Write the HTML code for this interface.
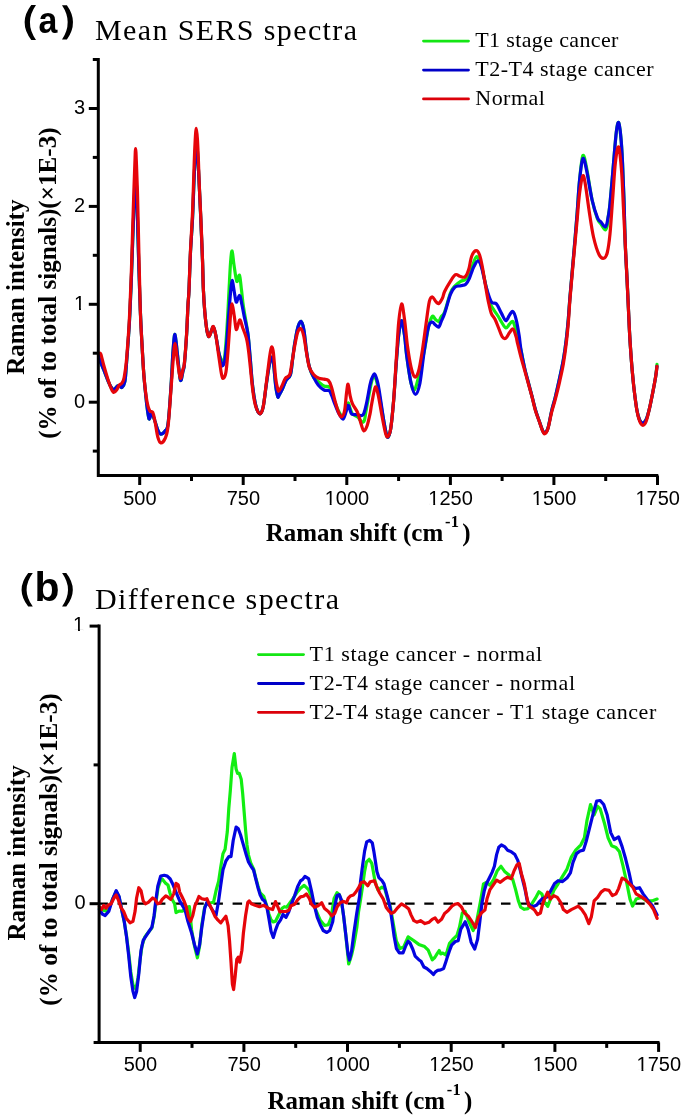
<!DOCTYPE html>
<html><head><meta charset="utf-8"><style>
html,body{margin:0;padding:0;background:#fff;width:685px;height:1120px;overflow:hidden}
svg{display:block;will-change:transform}
text{fill:#000}
</style></head><body>
<svg width="685" height="1120" viewBox="0 0 685 1120"><path d="M98.6,356.0 C98.9,357.0 99.6,359.7 100.5,362.0 C101.4,364.3 102.5,366.8 103.8,370.0 C105.1,373.2 106.9,378.2 108.1,381.0 C109.3,383.8 110.0,385.6 111.0,387.0 C112.0,388.4 112.9,389.8 114.0,389.6 C115.1,389.4 116.6,386.5 117.6,385.9 C118.6,385.3 119.3,385.8 120.0,386.0 C120.7,386.2 121.2,388.1 122.0,387.4 C122.8,386.6 124.2,385.2 124.9,381.5 C125.6,377.8 125.8,372.8 126.4,365.0 C127.0,357.2 128.0,343.3 128.6,335.0 C129.2,326.7 129.3,325.0 129.8,315.0 C130.3,305.0 131.0,288.8 131.5,275.0 C132.0,261.2 132.5,245.3 133.0,232.0 C133.5,218.7 134.1,204.5 134.5,195.0 C134.9,185.5 135.3,175.0 135.7,175.0 C136.1,175.0 136.6,185.5 136.9,195.0 C137.2,204.5 137.5,219.2 137.8,232.0 C138.2,244.8 138.6,259.0 139.0,272.0 C139.4,285.0 139.9,298.8 140.3,310.0 C140.8,321.2 141.1,328.1 141.7,339.0 C142.3,349.9 143.1,364.7 143.9,375.7 C144.8,386.7 146.0,397.8 146.8,405.0 C147.7,412.2 148.3,417.3 149.0,418.8 C149.7,420.3 150.4,414.6 151.0,414.0 C151.6,413.4 152.0,413.8 152.7,415.0 C153.3,416.2 154.1,418.5 154.9,421.0 C155.8,423.5 156.8,427.8 157.8,430.0 C158.8,432.2 159.5,433.9 160.7,434.1 C161.9,434.3 163.9,432.7 165.1,431.0 C166.3,429.3 167.0,431.2 168.0,424.0 C169.0,416.8 170.1,400.3 170.9,388.0 C171.8,375.7 172.4,358.9 173.1,350.0 C173.8,341.1 174.3,333.7 175.0,334.5 C175.7,335.3 176.6,347.4 177.5,355.0 C178.4,362.6 179.5,377.3 180.4,380.0 C181.3,382.7 182.3,373.7 183.0,371.0 C183.7,368.3 183.8,370.1 184.4,364.0 C185.0,357.9 186.0,344.3 186.6,334.5 C187.2,324.7 187.6,312.4 188.0,305.0 C188.4,297.6 188.6,298.8 189.0,290.0 C189.4,281.2 189.9,263.8 190.5,252.0 C191.1,240.2 191.8,232.7 192.5,219.0 C193.2,205.3 193.8,182.8 194.5,170.0 C195.2,157.2 195.7,142.5 196.4,142.5 C197.1,142.5 197.8,157.2 198.5,170.0 C199.2,182.8 200.1,204.0 200.8,219.0 C201.5,234.0 202.1,248.2 202.5,260.0 C202.9,271.8 203.0,281.4 203.4,290.0 C203.8,298.6 204.2,305.1 204.8,311.9 C205.4,318.7 206.3,326.8 207.0,330.9 C207.7,335.0 208.2,336.7 208.9,336.7 C209.6,336.7 210.7,332.5 211.4,330.9 C212.1,329.3 212.6,326.3 213.3,327.0 C214.0,327.7 214.9,331.1 215.8,335.3 C216.7,339.5 217.8,347.9 218.7,352.0 C219.6,356.1 220.7,358.3 221.3,360.0 C221.9,361.7 221.8,362.6 222.3,362.3 C222.8,362.0 223.8,362.6 224.5,358.0 C225.2,353.4 225.9,343.6 226.5,335.0 C227.1,326.4 227.8,314.1 228.2,306.4 C228.6,298.7 228.7,296.0 229.1,288.6 C229.5,281.2 230.1,268.3 230.6,262.0 C231.1,255.7 231.5,250.5 232.1,251.0 C232.7,251.5 233.2,259.9 234.0,265.0 C234.8,270.1 235.9,279.7 236.8,281.4 C237.7,283.1 238.7,273.8 239.5,275.2 C240.3,276.6 240.8,284.8 241.5,290.0 C242.2,295.2 242.3,299.1 243.4,306.4 C244.5,313.7 246.8,325.6 247.9,333.8 C249.0,342.0 249.2,347.2 250.0,355.7 C250.8,364.2 251.5,376.6 252.5,385.0 C253.5,393.4 254.7,401.2 255.9,406.0 C257.1,410.8 258.8,413.7 260.0,413.8 C261.2,413.9 262.2,411.4 263.2,406.8 C264.2,402.2 265.2,392.5 266.1,386.0 C267.0,379.5 268.1,372.3 268.8,368.0 C269.5,363.7 270.0,361.8 270.5,360.0 C271.0,358.2 271.5,356.9 272.0,357.2 C272.5,357.5 272.8,357.4 273.4,362.0 C274.0,366.6 274.9,379.2 275.6,385.0 C276.3,390.8 277.2,394.9 277.8,396.6 C278.4,398.3 278.3,396.4 279.1,395.1 C279.9,393.8 281.2,391.4 282.4,389.0 C283.5,386.6 284.7,382.9 286.0,380.5 C287.3,378.1 289.3,378.1 290.4,374.7 C291.5,371.3 291.8,365.3 292.5,360.0 C293.2,354.7 293.9,348.3 294.8,343.0 C295.7,337.7 296.7,331.6 297.7,328.0 C298.7,324.4 300.0,321.1 301.0,321.4 C302.0,321.7 303.0,325.0 303.9,330.0 C304.8,335.0 305.6,345.1 306.5,351.3 C307.4,357.5 308.2,362.6 309.4,367.0 C310.6,371.4 312.3,375.2 313.8,377.6 C315.3,380.0 316.5,380.1 318.2,381.5 C319.9,382.9 322.2,385.1 324.0,386.0 C325.8,386.9 327.9,386.0 329.1,387.0 C330.4,388.0 330.6,389.8 331.5,392.0 C332.4,394.2 333.0,396.8 334.2,400.0 C335.4,403.2 337.1,408.2 338.6,411.0 C340.1,413.8 341.8,417.2 343.0,417.0 C344.2,416.8 345.1,412.3 346.0,410.0 C346.9,407.7 347.4,403.3 348.1,403.0 C348.8,402.7 349.3,406.2 350.0,408.0 C350.7,409.8 351.2,412.5 352.5,414.0 C353.8,415.5 356.0,415.7 357.6,417.0 C359.2,418.3 360.9,421.5 362.0,422.0 C363.1,422.5 363.8,422.2 364.5,420.0 C365.2,417.8 365.1,415.7 366.4,409.0 C367.6,402.3 370.6,385.2 372.0,380.0 C373.4,374.8 373.8,377.1 374.6,377.6 C375.4,378.1 375.5,376.2 377.0,383.0 C378.5,389.8 382.0,410.7 383.4,418.5 C384.8,426.3 384.8,426.9 385.5,430.0 C386.2,433.1 386.8,437.6 387.7,437.4 C388.6,437.2 389.7,434.8 390.7,428.7 C391.7,422.6 392.6,412.3 393.6,400.9 C394.6,389.4 395.6,371.0 396.5,360.0 C397.4,349.0 397.8,341.6 398.7,335.0 C399.6,328.4 400.6,320.7 401.6,320.7 C402.6,320.7 403.6,329.2 404.5,335.0 C405.4,340.8 405.6,347.6 406.7,355.7 C407.8,363.8 409.6,378.0 411.1,383.4 C412.6,388.8 413.3,393.1 415.5,387.8 C417.7,382.5 422.0,361.5 424.2,351.3 C426.4,341.1 427.2,332.3 428.6,326.5 C430.0,320.7 431.2,317.5 432.3,316.3 C433.4,315.1 434.4,318.6 435.5,319.5 C436.6,320.4 437.9,321.9 438.8,321.5 C439.7,321.1 440.0,318.6 441.0,317.0 C442.0,315.4 443.0,316.0 444.6,312.0 C446.2,308.0 448.7,297.3 450.4,293.0 C452.1,288.7 453.1,287.9 454.8,286.0 C456.5,284.1 459.0,282.3 460.7,281.3 C462.4,280.3 463.6,281.1 465.0,279.9 C466.4,278.7 467.9,277.0 469.4,274.0 C470.9,271.0 472.6,264.9 473.8,262.0 C475.0,259.1 475.7,256.5 476.7,256.5 C477.7,256.5 479.0,259.8 480.0,262.0 C481.0,264.2 481.5,265.8 482.5,270.0 C483.5,274.2 484.9,281.5 486.2,287.0 C487.4,292.5 488.7,299.1 490.0,303.0 C491.3,306.9 492.9,308.3 494.2,310.5 C495.5,312.7 496.8,314.1 498.0,316.0 C499.2,317.9 500.2,320.0 501.5,322.0 C502.8,324.0 504.5,327.7 505.9,328.0 C507.2,328.3 508.4,325.1 509.6,324.0 C510.8,322.9 511.9,320.7 512.9,321.5 C513.9,322.3 514.7,326.4 515.5,329.0 C516.3,331.6 516.7,333.3 517.6,336.8 C518.5,340.3 519.8,344.8 521.0,350.0 C522.2,355.2 523.4,362.7 524.6,368.0 C525.8,373.3 527.0,377.3 528.2,382.0 C529.4,386.7 530.7,391.3 531.9,396.0 C533.1,400.7 534.3,405.8 535.5,410.0 C536.7,414.2 538.0,417.5 539.2,421.0 C540.4,424.5 541.8,429.0 542.8,431.0 C543.8,433.0 544.1,433.5 545.0,433.0 C545.9,432.5 546.9,431.7 548.0,428.0 C549.1,424.3 550.4,416.2 551.6,411.0 C552.8,405.8 554.0,402.5 555.3,397.0 C556.6,391.5 558.3,384.2 559.6,378.0 C560.9,371.8 562.2,366.3 563.3,360.0 C564.4,353.7 565.4,347.0 566.2,340.0 C567.1,333.0 567.8,325.0 568.4,318.0 C569.0,311.0 569.1,308.0 569.9,298.0 C570.7,288.0 572.2,271.8 573.4,258.0 C574.6,244.2 576.0,228.0 577.0,215.0 C578.0,202.0 578.6,189.9 579.6,180.0 C580.6,170.1 581.7,157.3 582.9,155.5 C584.1,153.7 585.3,161.6 586.8,169.0 C588.3,176.4 590.3,191.7 592.1,200.0 C593.9,208.3 596.0,215.0 597.5,219.0 C599.0,223.0 599.7,222.2 601.0,224.0 C602.3,225.8 604.3,230.3 605.5,230.0 C606.7,229.7 607.6,224.0 608.0,222.0 C608.4,220.0 607.7,221.1 608.0,218.0 C608.3,214.9 609.1,212.8 610.0,203.6 C610.9,194.3 612.6,174.4 613.6,162.5 C614.6,150.6 615.5,138.8 616.3,132.1 C617.1,125.4 617.9,121.9 618.6,122.5 C619.3,123.1 620.1,129.0 620.7,135.7 C621.4,142.4 622.0,151.8 622.5,162.5 C623.0,173.2 623.5,186.6 624.0,200.0 C624.5,213.4 624.7,229.8 625.2,242.9 C625.7,256.0 626.4,266.3 627.0,278.6 C627.6,290.9 628.3,306.0 628.8,316.8 C629.3,327.6 629.6,334.7 630.2,343.6 C630.8,352.5 631.5,362.6 632.2,370.4 C632.9,378.2 633.4,383.8 634.2,390.4 C635.0,397.0 636.0,405.1 636.9,410.0 C637.8,414.9 638.6,417.8 639.6,420.0 C640.6,422.2 641.8,423.1 642.9,423.0 C644.0,422.9 645.1,422.0 646.2,419.5 C647.3,417.0 648.5,412.5 649.6,407.9 C650.7,403.3 651.9,396.9 652.9,391.8 C653.9,386.7 654.9,381.6 655.6,377.0 C656.3,372.4 656.8,366.4 657.0,364.3" fill="none" stroke="#12ee12" stroke-width="3.2" stroke-linejoin="round" stroke-linecap="round"/>
<path d="M98.6,356.0 C98.9,357.0 99.6,359.7 100.5,362.0 C101.4,364.3 102.5,366.8 103.8,370.0 C105.1,373.2 106.9,378.2 108.1,381.0 C109.3,383.8 110.0,385.6 111.0,387.0 C112.0,388.4 112.9,389.8 114.0,389.6 C115.1,389.4 116.6,386.5 117.6,385.9 C118.6,385.3 119.3,385.8 120.0,386.0 C120.7,386.2 121.2,388.1 122.0,387.4 C122.8,386.6 124.2,385.2 124.9,381.5 C125.6,377.8 125.8,372.8 126.4,365.0 C127.0,357.2 128.0,343.3 128.6,335.0 C129.2,326.7 129.3,325.0 129.8,315.0 C130.3,305.0 131.0,288.8 131.5,275.0 C132.0,261.2 132.5,245.3 133.0,232.0 C133.5,218.7 134.1,204.5 134.5,195.0 C134.9,185.5 135.3,175.0 135.7,175.0 C136.1,175.0 136.6,185.5 136.9,195.0 C137.2,204.5 137.5,219.2 137.8,232.0 C138.2,244.8 138.6,259.0 139.0,272.0 C139.4,285.0 139.9,298.8 140.3,310.0 C140.8,321.2 141.1,328.1 141.7,339.0 C142.3,349.9 143.1,364.7 143.9,375.7 C144.8,386.7 146.0,397.8 146.8,405.0 C147.7,412.2 148.3,417.3 149.0,418.8 C149.7,420.3 150.4,414.6 151.0,414.0 C151.6,413.4 152.0,413.8 152.7,415.0 C153.3,416.2 154.1,418.5 154.9,421.0 C155.8,423.5 156.8,427.8 157.8,430.0 C158.8,432.2 159.5,433.9 160.7,434.1 C161.9,434.3 163.9,432.7 165.1,431.0 C166.3,429.3 167.0,431.2 168.0,424.0 C169.0,416.8 170.1,400.3 170.9,388.0 C171.8,375.7 172.4,358.9 173.1,350.0 C173.8,341.1 174.3,333.7 175.0,334.5 C175.7,335.3 176.6,347.4 177.5,355.0 C178.4,362.6 179.5,377.3 180.4,380.0 C181.3,382.7 182.3,373.7 183.0,371.0 C183.7,368.3 183.8,370.1 184.4,364.0 C185.0,357.9 186.0,344.3 186.6,334.5 C187.2,324.7 187.6,312.4 188.0,305.0 C188.4,297.6 188.6,298.8 189.0,290.0 C189.4,281.2 189.9,263.8 190.5,252.0 C191.1,240.2 191.8,232.7 192.5,219.0 C193.2,205.3 193.8,182.8 194.5,170.0 C195.2,157.2 195.7,142.5 196.4,142.5 C197.1,142.5 197.8,157.2 198.5,170.0 C199.2,182.8 200.1,204.0 200.8,219.0 C201.5,234.0 202.1,248.2 202.5,260.0 C202.9,271.8 203.0,281.4 203.4,290.0 C203.8,298.6 204.2,305.1 204.8,311.9 C205.4,318.7 206.3,326.8 207.0,330.9 C207.7,335.0 208.2,336.7 208.9,336.7 C209.6,336.7 210.7,332.5 211.4,330.9 C212.1,329.3 212.6,326.3 213.3,327.0 C214.0,327.7 214.9,331.1 215.8,335.3 C216.7,339.5 217.8,347.4 218.7,352.0 C219.6,356.6 220.7,360.7 221.3,363.0 C221.9,365.3 221.8,366.1 222.3,365.9 C222.8,365.7 223.8,365.5 224.5,362.0 C225.2,358.5 225.8,352.3 226.5,345.0 C227.2,337.7 227.8,326.7 228.5,318.0 C229.2,309.3 229.9,299.2 230.5,293.0 C231.1,286.8 231.5,280.7 232.1,280.5 C232.7,280.3 233.6,288.4 234.3,292.0 C235.0,295.6 235.5,301.0 236.2,302.0 C236.8,303.0 237.6,299.0 238.2,298.0 C238.8,297.0 239.3,294.6 239.9,295.8 C240.5,297.0 241.3,301.6 242.0,305.0 C242.7,308.4 243.2,311.5 244.2,316.3 C245.2,321.1 246.9,327.2 247.9,333.8 C248.9,340.4 249.2,347.2 250.0,355.7 C250.8,364.2 251.5,376.6 252.5,385.0 C253.5,393.4 254.7,401.2 255.9,406.0 C257.1,410.8 258.8,413.7 260.0,413.8 C261.2,413.9 262.2,411.4 263.2,406.8 C264.2,402.2 265.2,392.5 266.1,386.0 C267.0,379.5 268.1,372.3 268.8,368.0 C269.5,363.7 270.0,361.8 270.5,360.0 C271.0,358.2 271.5,356.9 272.0,357.2 C272.5,357.5 272.8,357.4 273.4,362.0 C274.0,366.6 274.9,379.2 275.6,385.0 C276.3,390.8 277.2,394.9 277.8,396.6 C278.4,398.3 278.3,396.4 279.1,395.1 C279.9,393.8 281.2,391.4 282.4,389.0 C283.5,386.6 284.7,382.9 286.0,380.5 C287.3,378.1 289.3,378.1 290.4,374.7 C291.5,371.3 291.8,365.3 292.5,360.0 C293.2,354.7 293.9,348.3 294.8,343.0 C295.7,337.7 296.7,331.6 297.7,328.0 C298.7,324.4 300.0,321.1 301.0,321.4 C302.0,321.7 303.0,325.0 303.9,330.0 C304.8,335.0 305.6,345.1 306.5,351.3 C307.4,357.5 308.2,362.6 309.4,367.0 C310.6,371.4 312.3,374.6 313.8,377.6 C315.3,380.6 316.5,382.8 318.2,384.9 C319.9,387.0 322.2,389.0 324.0,390.0 C325.8,391.0 327.9,389.9 329.1,390.7 C330.4,391.5 330.6,393.1 331.5,395.0 C332.4,396.9 333.0,399.4 334.2,402.4 C335.4,405.4 337.1,410.2 338.6,413.0 C340.1,415.8 341.8,419.4 343.0,419.2 C344.2,419.0 345.1,414.3 346.0,412.0 C346.9,409.7 347.4,405.6 348.1,405.3 C348.8,405.0 349.4,408.5 350.0,410.0 C350.6,411.5 350.5,413.3 351.8,414.1 C353.1,414.9 355.9,414.6 357.6,414.8 C359.3,415.0 360.9,415.8 362.0,415.5 C363.1,415.2 363.3,414.9 364.0,413.0 C364.7,411.1 365.4,408.6 366.4,403.9 C367.4,399.2 369.1,389.2 370.0,384.9 C370.9,380.6 371.2,379.8 372.0,378.0 C372.8,376.2 373.8,373.6 374.6,373.9 C375.4,374.2 376.3,377.4 377.0,380.0 C377.7,382.6 377.9,382.9 379.0,389.3 C380.1,395.7 382.3,411.7 383.4,418.5 C384.5,425.3 384.8,426.9 385.5,430.0 C386.2,433.1 386.8,437.6 387.7,437.4 C388.6,437.2 389.7,434.8 390.7,428.7 C391.7,422.6 392.6,412.3 393.6,400.9 C394.6,389.4 395.6,371.0 396.5,360.0 C397.4,349.0 397.8,341.6 398.7,335.0 C399.6,328.4 400.6,320.7 401.6,320.7 C402.6,320.7 403.6,329.2 404.5,335.0 C405.4,340.8 405.6,347.6 406.7,355.7 C407.8,363.8 409.6,376.9 411.1,383.4 C412.6,389.8 414.0,394.4 415.5,394.4 C417.0,394.4 418.4,390.6 419.9,383.4 C421.3,376.2 422.8,360.8 424.2,351.3 C425.6,341.8 427.2,331.4 428.6,326.5 C430.0,321.6 431.2,322.4 432.3,322.1 C433.4,321.9 434.4,324.2 435.5,325.0 C436.6,325.8 437.9,327.5 438.8,327.0 C439.7,326.5 440.0,324.3 441.0,322.0 C442.0,319.7 443.0,318.0 444.6,313.4 C446.2,308.8 448.7,298.9 450.4,294.5 C452.1,290.1 453.1,288.7 454.8,287.2 C456.5,285.7 458.9,286.2 460.7,285.7 C462.5,285.2 464.4,285.4 465.8,284.2 C467.2,283.0 468.1,281.3 469.4,278.4 C470.7,275.5 472.3,269.6 473.8,266.7 C475.3,263.8 476.9,260.6 478.2,260.9 C479.5,261.1 480.5,263.8 481.8,268.2 C483.1,272.6 484.6,281.6 486.2,287.2 C487.8,292.8 489.6,299.0 491.3,301.8 C493.0,304.6 494.7,302.0 496.4,303.9 C498.1,305.8 499.9,310.6 501.5,313.4 C503.1,316.2 504.5,320.4 505.9,320.7 C507.2,320.9 508.4,316.4 509.6,314.9 C510.8,313.4 511.8,310.8 512.9,311.5 C514.0,312.2 515.1,315.3 516.1,319.3 C517.1,323.3 518.3,330.2 519.1,335.3 C519.9,340.4 520.1,344.6 521.0,350.0 C521.9,355.4 523.4,362.7 524.6,368.0 C525.8,373.3 527.0,377.3 528.2,382.0 C529.4,386.7 530.7,391.3 531.9,396.0 C533.1,400.7 534.3,405.8 535.5,410.0 C536.7,414.2 538.0,417.5 539.2,421.0 C540.4,424.5 541.8,429.0 542.8,431.0 C543.8,433.0 544.1,433.5 545.0,433.0 C545.9,432.5 546.9,431.7 548.0,428.0 C549.1,424.3 550.4,416.2 551.6,411.0 C552.8,405.8 554.0,402.5 555.3,397.0 C556.6,391.5 558.3,384.2 559.6,378.0 C560.9,371.8 562.2,366.3 563.3,360.0 C564.4,353.7 565.4,347.0 566.2,340.0 C567.1,333.0 567.8,325.0 568.4,318.0 C569.0,311.0 569.1,308.0 569.9,298.0 C570.7,288.0 572.2,271.8 573.4,258.0 C574.6,244.2 576.0,228.0 577.0,215.0 C578.0,202.0 578.6,189.4 579.6,180.0 C580.6,170.6 581.7,159.9 582.9,158.5 C584.1,157.1 585.3,164.5 586.8,171.4 C588.3,178.3 590.3,192.2 592.1,200.0 C593.9,207.8 596.0,214.2 597.5,217.9 C599.0,221.6 599.7,220.5 601.0,222.0 C602.3,223.5 604.3,227.5 605.5,226.8 C606.7,226.1 607.2,221.9 608.0,218.0 C608.8,214.1 609.1,212.8 610.0,203.6 C610.9,194.3 612.6,174.4 613.6,162.5 C614.6,150.6 615.5,138.8 616.3,132.1 C617.1,125.4 617.9,121.9 618.6,122.5 C619.3,123.1 620.1,129.0 620.7,135.7 C621.4,142.4 622.0,151.8 622.5,162.5 C623.0,173.2 623.5,186.6 624.0,200.0 C624.5,213.4 624.7,229.8 625.2,242.9 C625.7,256.0 626.4,266.3 627.0,278.6 C627.6,290.9 628.3,306.0 628.8,316.8 C629.3,327.6 629.6,334.7 630.2,343.6 C630.8,352.5 631.5,362.6 632.2,370.4 C632.9,378.2 633.4,383.8 634.2,390.4 C635.0,397.0 636.0,405.1 636.9,410.0 C637.8,414.9 638.6,417.8 639.6,420.0 C640.6,422.2 641.8,423.1 642.9,423.0 C644.0,422.9 645.1,422.0 646.2,419.5 C647.3,417.0 648.5,412.5 649.6,407.9 C650.7,403.3 651.9,396.9 652.9,391.8 C653.9,386.7 654.9,381.2 655.6,377.0 C656.3,372.8 656.8,368.1 657.0,366.3" fill="none" stroke="#0404e0" stroke-width="3.2" stroke-linejoin="round" stroke-linecap="round"/>
<path d="M98.8,353.5 C99.1,353.6 100.0,352.0 100.8,354.0 C101.6,356.0 102.6,361.2 103.8,365.5 C105.0,369.8 106.9,376.2 108.1,380.0 C109.3,383.8 110.1,385.9 111.0,388.0 C111.9,390.1 112.7,392.2 113.7,392.5 C114.7,392.8 116.0,390.8 116.9,389.6 C117.8,388.4 118.2,386.3 119.1,385.2 C119.9,384.1 121.2,384.3 122.0,383.0 C122.8,381.7 123.5,380.9 124.2,377.2 C124.9,373.5 125.7,368.5 126.4,361.0 C127.1,353.5 128.0,340.5 128.6,332.0 C129.2,323.5 129.3,320.3 129.8,310.0 C130.3,299.7 130.9,283.8 131.4,270.0 C131.9,256.2 132.3,240.3 132.7,227.0 C133.1,213.7 133.6,200.3 133.9,190.0 C134.2,179.7 134.5,171.9 134.8,165.0 C135.1,158.1 135.3,148.5 135.6,148.5 C135.9,148.5 136.2,158.1 136.5,165.0 C136.8,171.9 137.1,179.7 137.4,190.0 C137.7,200.3 137.8,207.0 138.3,227.0 C138.8,247.0 139.7,291.3 140.3,310.0 C140.9,328.7 141.1,328.1 141.7,339.0 C142.3,349.9 143.1,365.4 143.9,375.7 C144.8,385.9 145.8,394.7 146.8,400.5 C147.8,406.3 148.7,408.8 149.7,410.7 C150.7,412.6 151.8,410.5 152.7,412.2 C153.6,413.9 154.1,416.9 154.9,421.0 C155.8,425.1 156.8,433.4 157.8,437.0 C158.8,440.6 159.5,442.6 160.7,442.8 C161.9,443.1 163.9,441.2 165.1,438.5 C166.3,435.8 167.0,434.8 168.0,426.8 C169.0,418.8 170.1,401.2 170.9,390.3 C171.8,379.4 172.4,368.9 173.1,361.1 C173.8,353.3 174.3,343.6 175.0,343.6 C175.7,343.6 176.6,355.3 177.5,361.1 C178.4,366.9 179.5,377.0 180.4,378.3 C181.3,379.6 182.3,371.6 183.0,369.0 C183.7,366.4 183.8,368.9 184.4,363.0 C185.0,357.1 186.0,343.5 186.6,333.8 C187.2,324.1 187.6,311.9 188.0,304.6 C188.4,297.3 188.6,299.1 189.0,290.0 C189.4,280.9 189.9,262.2 190.5,250.0 C191.1,237.8 191.8,227.0 192.3,217.0 C192.8,207.0 193.0,199.5 193.3,190.0 C193.6,180.5 194.0,168.3 194.3,160.0 C194.6,151.7 194.9,145.3 195.2,140.0 C195.5,134.7 195.9,128.3 196.3,128.3 C196.7,128.3 197.2,134.7 197.5,140.0 C197.8,145.3 198.1,151.7 198.4,160.0 C198.7,168.3 199.1,180.5 199.5,190.0 C199.9,199.5 200.3,205.3 200.8,217.0 C201.3,228.7 202.1,247.8 202.5,260.0 C202.9,272.2 203.0,281.4 203.4,290.0 C203.8,298.6 204.2,305.1 204.8,311.9 C205.4,318.7 206.3,326.8 207.0,330.9 C207.7,335.0 208.2,336.7 208.9,336.7 C209.6,336.7 210.7,332.6 211.4,330.9 C212.1,329.2 212.6,325.8 213.3,326.5 C214.0,327.2 214.9,330.4 215.8,335.3 C216.7,340.2 217.7,349.1 218.7,355.7 C219.7,362.3 220.8,370.9 221.6,374.7 C222.4,378.5 222.8,378.8 223.5,378.3 C224.2,377.8 225.2,376.8 226.0,371.8 C226.8,366.8 227.5,357.6 228.2,348.4 C228.9,339.1 229.8,323.7 230.4,316.3 C231.1,308.9 231.4,303.9 232.1,303.9 C232.8,303.9 233.6,312.1 234.3,316.3 C235.0,320.6 235.5,328.2 236.2,329.4 C236.9,330.6 237.8,325.2 238.4,323.6 C239.1,322.0 239.4,319.2 240.1,319.9 C240.8,320.6 241.8,324.9 242.8,328.0 C243.9,331.1 245.4,334.3 246.4,338.2 C247.4,342.1 247.9,345.7 248.6,351.3 C249.3,356.9 250.1,365.0 250.8,371.8 C251.5,378.6 252.2,386.4 253.0,392.2 C253.8,398.0 254.7,403.2 255.9,406.8 C257.1,410.4 258.8,413.8 260.0,413.8 C261.2,413.8 262.2,411.6 263.2,406.8 C264.2,402.0 265.2,392.2 266.1,384.9 C267.0,377.6 268.1,368.6 268.8,363.0 C269.5,357.4 270.0,354.0 270.5,351.3 C271.0,348.6 271.5,346.6 272.0,346.9 C272.5,347.1 272.8,347.7 273.4,352.8 C274.0,357.9 274.9,371.5 275.6,377.6 C276.3,383.7 277.2,387.1 277.8,389.3 C278.4,391.5 278.3,391.4 279.1,390.7 C279.9,390.0 281.4,387.0 282.4,384.9 C283.4,382.8 284.1,380.0 285.3,378.3 C286.5,376.6 288.6,377.2 289.7,374.7 C290.8,372.1 291.0,367.9 291.9,363.0 C292.8,358.1 293.8,350.6 294.8,345.5 C295.8,340.4 296.7,335.1 297.7,332.3 C298.7,329.5 300.0,328.0 301.0,328.7 C302.0,329.4 303.0,332.7 303.9,336.7 C304.8,340.7 305.6,347.7 306.5,352.8 C307.4,357.9 308.2,363.8 309.4,367.4 C310.6,371.0 312.2,372.9 313.8,374.7 C315.4,376.5 317.2,377.6 318.9,378.3 C320.6,379.0 322.4,378.7 324.0,379.1 C325.6,379.5 327.2,379.3 328.4,380.5 C329.6,381.7 330.2,383.0 331.3,386.4 C332.4,389.8 333.8,396.5 335.0,400.9 C336.2,405.3 337.5,409.9 338.6,412.6 C339.7,415.3 340.5,417.2 341.5,417.0 C342.5,416.8 343.6,415.3 344.5,411.2 C345.4,407.1 346.0,396.7 346.6,392.2 C347.2,387.7 347.5,383.7 348.1,384.2 C348.7,384.7 349.3,391.8 350.0,395.1 C350.7,398.4 351.2,401.0 352.5,403.9 C353.8,406.8 356.2,409.2 357.6,412.6 C359.1,416.0 360.2,421.2 361.2,424.3 C362.2,427.4 362.8,430.6 363.8,430.9 C364.8,431.1 366.1,428.6 367.1,425.8 C368.1,423.0 369.2,417.8 370.0,414.1 C370.8,410.5 370.8,408.4 371.7,403.9 C372.6,399.4 374.2,388.6 375.3,387.1 C376.4,385.6 377.1,390.4 378.2,395.1 C379.3,399.8 380.7,409.2 381.9,415.5 C383.1,421.8 384.5,429.6 385.5,433.1 C386.5,436.6 386.8,437.4 387.7,436.7 C388.6,436.0 389.7,434.7 390.7,428.7 C391.7,422.7 392.6,413.1 393.6,400.9 C394.6,388.7 395.6,368.8 396.5,355.7 C397.4,342.6 397.8,330.7 398.7,322.1 C399.6,313.5 400.6,304.4 401.6,303.9 C402.6,303.4 403.5,312.3 404.5,319.2 C405.5,326.1 406.3,337.5 407.4,345.5 C408.5,353.5 409.9,362.2 411.1,367.4 C412.3,372.6 413.5,376.2 414.7,376.9 C415.9,377.6 417.2,375.8 418.4,371.8 C419.6,367.8 420.8,360.4 422.0,352.8 C423.2,345.2 424.5,335.0 425.7,326.5 C426.9,318.0 428.2,306.6 429.3,301.7 C430.4,296.8 431.2,296.8 432.3,296.8 C433.4,296.8 434.8,300.6 435.9,301.7 C437.0,302.8 437.7,304.1 438.8,303.5 C439.9,302.9 441.5,300.0 442.5,298.0 C443.5,296.0 443.3,294.3 444.6,291.5 C445.9,288.7 448.6,284.1 450.4,281.3 C452.2,278.5 453.9,275.6 455.5,274.7 C457.1,273.8 458.3,275.8 459.9,276.2 C461.5,276.6 463.5,278.0 465.0,276.9 C466.5,275.8 467.6,273.0 468.7,269.6 C469.8,266.2 470.4,259.6 471.6,256.5 C472.8,253.3 474.7,250.9 476.0,250.7 C477.3,250.4 478.5,252.1 479.6,255.0 C480.7,257.9 481.6,263.1 482.6,268.2 C483.6,273.3 484.5,280.1 485.5,285.7 C486.5,291.3 487.4,297.2 488.4,301.8 C489.4,306.4 490.2,310.5 491.3,313.4 C492.4,316.3 493.8,316.9 495.0,319.3 C496.2,321.7 497.4,325.1 498.6,328.0 C499.8,330.9 501.1,335.1 502.3,336.8 C503.5,338.5 504.7,338.9 505.9,338.2 C507.1,337.5 508.4,333.9 509.6,332.4 C510.8,330.9 511.9,328.3 513.0,329.0 C514.1,329.7 515.4,334.6 516.1,336.8 C516.8,339.0 516.5,339.0 517.3,342.3 C518.1,345.6 519.7,352.3 520.9,356.9 C522.1,361.5 523.4,365.7 524.6,370.1 C525.8,374.5 527.0,378.8 528.2,383.2 C529.4,387.6 530.7,391.8 531.9,396.4 C533.1,401.0 534.3,406.8 535.5,410.9 C536.7,415.0 538.0,417.8 539.2,421.2 C540.4,424.6 541.8,429.3 542.8,431.4 C543.8,433.5 544.1,434.1 545.0,433.6 C545.9,433.1 546.9,432.0 548.0,428.5 C549.1,425.0 550.4,417.3 551.6,412.4 C552.8,407.5 554.0,404.4 555.3,399.3 C556.6,394.2 558.3,387.7 559.6,381.8 C560.9,375.9 562.2,370.5 563.3,364.2 C564.4,357.9 565.4,350.9 566.2,343.8 C567.1,336.8 567.8,329.2 568.4,321.9 C569.0,314.6 569.1,310.2 569.9,300.0 C570.7,289.8 572.2,273.8 573.4,260.7 C574.6,247.6 576.0,232.7 577.0,221.4 C578.0,210.1 578.6,200.6 579.6,193.0 C580.6,185.4 581.9,177.0 582.9,175.8 C583.9,174.6 584.6,180.3 585.6,186.0 C586.6,191.7 587.7,201.5 589.0,210.0 C590.3,218.5 591.8,229.6 593.5,237.0 C595.2,244.4 597.3,251.0 599.0,254.5 C600.7,258.0 602.4,258.5 603.8,258.2 C605.2,257.9 606.3,256.6 607.3,252.5 C608.3,248.4 609.1,243.0 610.0,233.9 C610.9,224.8 611.8,210.1 612.7,198.2 C613.6,186.3 614.4,171.0 615.4,162.5 C616.4,154.0 617.6,145.5 618.6,147.0 C619.6,148.5 620.8,161.4 621.6,171.4 C622.4,181.4 622.8,195.2 623.4,207.1 C624.0,219.0 624.6,231.0 625.2,242.9 C625.8,254.8 626.4,266.3 627.0,278.6 C627.6,290.9 628.3,306.0 628.8,316.8 C629.3,327.6 629.6,334.7 630.2,343.6 C630.8,352.5 631.5,362.6 632.2,370.4 C632.9,378.2 633.4,383.7 634.2,390.4 C635.0,397.1 636.0,405.4 636.9,410.5 C637.8,415.6 638.6,418.7 639.6,421.2 C640.6,423.7 641.8,425.3 642.9,425.3 C644.0,425.3 645.1,424.1 646.2,421.2 C647.3,418.3 648.5,412.8 649.6,407.9 C650.7,403.0 651.9,396.9 652.9,391.8 C653.9,386.7 654.9,381.2 655.6,377.0 C656.3,372.8 656.8,368.1 657.0,366.3" fill="none" stroke="#e6050a" stroke-width="3.2" stroke-linejoin="round" stroke-linecap="round"/>
<path d="M98.3,58.049999999999955 L98.3,475.5 L658.3,475.5" fill="none" stroke="#000" stroke-width="3"/>
<line x1="92.8" y1="451.1" x2="98.3" y2="451.1" stroke="#000" stroke-width="3" />
<line x1="92.8" y1="353.2" x2="98.3" y2="353.2" stroke="#000" stroke-width="3" />
<line x1="92.8" y1="255.3" x2="98.3" y2="255.3" stroke="#000" stroke-width="3" />
<line x1="92.8" y1="157.4" x2="98.3" y2="157.4" stroke="#000" stroke-width="3" />
<line x1="92.8" y1="59.5" x2="98.3" y2="59.5" stroke="#000" stroke-width="3" />
<line x1="88.8" y1="402.2" x2="98.3" y2="402.2" stroke="#000" stroke-width="3" />
<text x="85.2" y="407.5" font-family="Liberation Sans" font-size="20" font-weight="normal" text-anchor="end" >0</text>
<line x1="88.8" y1="304.3" x2="98.3" y2="304.3" stroke="#000" stroke-width="3" />
<text x="85.2" y="309.6" font-family="Liberation Sans" font-size="20" font-weight="normal" text-anchor="end" >1</text>
<line x1="88.8" y1="206.4" x2="98.3" y2="206.4" stroke="#000" stroke-width="3" />
<text x="85.2" y="211.7" font-family="Liberation Sans" font-size="20" font-weight="normal" text-anchor="end" >2</text>
<line x1="88.8" y1="108.5" x2="98.3" y2="108.5" stroke="#000" stroke-width="3" />
<text x="85.2" y="113.8" font-family="Liberation Sans" font-size="20" font-weight="normal" text-anchor="end" >3</text>
<line x1="139.7" y1="475.5" x2="139.7" y2="485.0" stroke="#000" stroke-width="3" />
<text x="139.9" y="505.0" font-family="Liberation Sans" font-size="20" font-weight="normal" text-anchor="middle" >500</text>
<line x1="243.2" y1="475.5" x2="243.2" y2="485.0" stroke="#000" stroke-width="3" />
<text x="243.4" y="505.0" font-family="Liberation Sans" font-size="20" font-weight="normal" text-anchor="middle" >750</text>
<line x1="346.8" y1="475.5" x2="346.8" y2="485.0" stroke="#000" stroke-width="3" />
<text x="347.0" y="505.0" font-family="Liberation Sans" font-size="20" font-weight="normal" text-anchor="middle" >1000</text>
<line x1="450.4" y1="475.5" x2="450.4" y2="485.0" stroke="#000" stroke-width="3" />
<text x="450.6" y="505.0" font-family="Liberation Sans" font-size="20" font-weight="normal" text-anchor="middle" >1250</text>
<line x1="553.9" y1="475.5" x2="553.9" y2="485.0" stroke="#000" stroke-width="3" />
<text x="554.1" y="505.0" font-family="Liberation Sans" font-size="20" font-weight="normal" text-anchor="middle" >1500</text>
<line x1="657.5" y1="475.5" x2="657.5" y2="485.0" stroke="#000" stroke-width="3" />
<text x="657.7" y="505.0" font-family="Liberation Sans" font-size="20" font-weight="normal" text-anchor="middle" >1750</text>
<line x1="191.5" y1="475.5" x2="191.5" y2="481.0" stroke="#000" stroke-width="3" />
<line x1="295.0" y1="475.5" x2="295.0" y2="481.0" stroke="#000" stroke-width="3" />
<line x1="398.6" y1="475.5" x2="398.6" y2="481.0" stroke="#000" stroke-width="3" />
<line x1="502.1" y1="475.5" x2="502.1" y2="481.0" stroke="#000" stroke-width="3" />
<line x1="605.7" y1="475.5" x2="605.7" y2="481.0" stroke="#000" stroke-width="3" />
<line x1="99.1" y1="903.7" x2="658.5" y2="903.7" stroke="#000" stroke-width="2.2" stroke-dasharray="9.5 9.67" stroke-dashoffset="0.7"/>
<path d="M99.4,908.2 L103.8,910.4 L106.0,911.0 L108.9,909.0 L112.5,899.4 L116.2,891.5 L119.1,897.0 L122.0,911.1 L124.2,921.3 L126.4,935.0 L128.6,952.0 L130.8,972.0 L133.0,985.0 L135.9,989.0 L138.0,978.0 L140.0,960.0 L142.0,946.0 L144.6,937.4 L147.0,934.0 L149.0,931.5 L151.9,928.0 L154.1,917.0 L155.6,905.0 L158.0,888.0 L160.7,880.0 L162.2,879.0 L165.8,883.4 L168.0,885.0 L170.0,893.0 L172.5,900.0 L174.6,903.8 L176.0,912.6 L178.9,911.1 L182.6,911.1 L185.5,908.2 L187.5,907.0 L189.4,906.7 L191.6,930.0 L194.5,946.0 L197.4,957.8 L199.6,946.0 L201.8,925.0 L204.7,907.0 L206.9,903.0 L210.0,903.0 L213.5,902.3 L216.4,889.2 L218.6,881.4 L220.8,866.8 L223.0,853.6 L225.1,849.3 L227.3,831.8 L228.8,808.4 L230.3,790.9 L232.0,767.5 L234.3,753.5 L236.1,769.0 L237.6,773.4 L239.3,773.4 L241.2,779.2 L242.7,793.8 L244.1,811.3 L245.6,830.3 L247.0,844.9 L248.5,855.1 L250.7,863.0 L253.6,869.0 L255.8,878.0 L258.0,886.0 L260.2,893.0 L263.8,896.5 L266.8,906.0 L268.9,914.0 L271.1,920.0 L273.3,922.0 L275.5,921.3 L278.4,915.5 L282.1,908.2 L284.3,906.7 L286.7,907.2 L291.1,901.3 L296.9,892.6 L300.5,888.2 L304.2,885.3 L308.6,889.6 L312.2,898.4 L315.9,910.1 L320.3,920.3 L324.6,925.5 L328.3,924.7 L331.0,918.0 L334.1,898.4 L337.0,892.6 L339.5,895.0 L341.5,902.0 L343.6,916.0 L345.8,935.0 L348.7,964.0 L351.6,955.0 L353.8,945.1 L356.8,927.6 L358.5,912.0 L360.5,900.0 L362.6,886.0 L364.5,872.0 L366.5,862.0 L369.2,859.3 L371.8,863.4 L373.3,871.5 L374.9,880.7 L376.5,886.0 L378.1,890.1 L381.8,887.2 L384.7,888.6 L387.6,898.8 L390.5,907.6 L393.5,925.1 L396.4,941.2 L400.0,948.5 L403.7,947.0 L408.1,936.8 L413.6,940.5 L418.8,944.4 L424.6,946.6 L428.2,950.2 L430.4,955.3 L432.3,959.8 L434.8,957.5 L437.0,953.9 L439.2,950.5 L440.7,953.9 L442.8,953.1 L445.8,955.0 L447.2,950.9 L449.4,943.6 L452.6,939.7 L457.0,935.3 L459.4,927.6 L462.3,913.0 L465.2,911.5 L468.9,921.8 L473.2,930.5 L476.9,920.3 L480.5,901.3 L483.5,883.8 L486.4,882.3 L490.0,885.3 L493.7,879.4 L497.3,870.7 L501.0,866.3 L504.6,871.4 L509.0,875.0 L512.7,879.4 L515.6,889.6 L518.5,901.3 L520.7,907.2 L524.3,909.3 L528.0,908.6 L531.6,904.2 L535.3,898.4 L538.9,891.8 L541.9,894.0 L544.1,901.3 L547.7,906.4 L550.6,899.0 L554.0,890.0 L557.3,885.1 L562.5,876.4 L566.9,869.3 L571.3,857.1 L575.7,850.1 L580.9,844.8 L584.4,837.8 L587.0,820.3 L590.5,804.5 L594.1,815.0 L597.6,806.3 L600.2,808.9 L604.6,823.8 L608.1,837.8 L611.6,845.7 L616.0,847.4 L619.5,851.8 L623.0,865.8 L626.5,881.6 L630.0,899.1 L632.6,906.1 L636.1,899.1 L641.4,897.4 L646.6,900.9 L651.9,900.9 L657.1,899.1" fill="none" stroke="#12ee12" stroke-width="3.2" stroke-linejoin="round" stroke-linecap="round"/>
<path d="M99.4,909.6 L102.3,914.0 L105.2,915.5 L108.9,911.1 L112.5,899.4 L116.2,890.7 L119.1,896.5 L122.0,911.1 L124.2,921.3 L126.4,935.9 L128.6,954.9 L130.8,976.8 L133.0,991.4 L134.7,997.5 L136.6,991.4 L138.8,973.9 L141.0,950.5 L143.2,940.3 L146.1,935.9 L149.0,931.5 L151.9,927.2 L154.1,915.5 L155.6,902.3 L157.8,886.3 L160.7,876.0 L164.3,875.3 L167.3,876.1 L170.2,879.0 L173.1,884.8 L176.0,892.1 L179.7,900.9 L184.0,908.2 L185.0,909.6 L187.9,921.3 L191.6,933.0 L194.5,944.7 L197.4,954.0 L199.6,944.7 L201.8,927.2 L204.7,908.2 L206.9,902.3 L210.0,906.0 L213.0,911.0 L216.0,915.5 L218.6,900.9 L220.8,884.8 L223.0,869.7 L225.9,861.0 L228.8,856.6 L231.0,856.6 L233.2,840.5 L236.1,827.0 L238.3,828.8 L240.5,834.7 L243.4,844.9 L246.3,855.1 L248.5,862.0 L250.7,865.8 L253.6,870.2 L255.8,879.0 L258.0,887.7 L260.2,895.0 L262.4,899.4 L264.6,900.9 L266.8,906.7 L268.9,918.4 L271.1,931.5 L273.3,937.5 L275.5,930.1 L277.7,924.2 L280.6,919.9 L283.0,914.5 L286.0,917.4 L288.9,911.5 L291.8,902.8 L294.7,895.5 L297.6,886.7 L300.5,880.9 L302.7,879.4 L304.9,876.5 L308.6,878.7 L311.5,891.1 L314.4,905.7 L317.3,917.4 L320.3,924.7 L323.2,930.5 L326.8,932.5 L329.7,930.5 L332.7,921.8 L334.9,905.7 L337.0,895.5 L339.2,894.7 L341.4,899.9 L343.6,915.9 L345.8,934.9 L348.0,953.9 L349.5,960.0 L351.6,950.9 L353.8,933.4 L356.8,913.0 L359.7,895.5 L360.5,881.7 L362.6,865.4 L364.6,851.1 L366.7,841.9 L369.7,840.3 L372.3,842.9 L373.8,851.1 L375.4,861.3 L376.9,871.5 L378.9,877.7 L382.0,880.7 L384.0,883.8 L385.6,889.9 L387.6,897.4 L389.8,906.1 L392.0,920.7 L394.2,936.8 L396.4,948.5 L399.3,952.8 L403.0,952.8 L405.9,945.5 L408.1,941.2 L410.0,943.0 L412.9,949.5 L415.1,956.1 L418.8,959.7 L421.0,961.2 L423.9,967.0 L426.8,968.5 L430.4,971.4 L433.4,974.5 L435.2,972.1 L437.7,970.3 L440.7,969.9 L443.6,968.5 L445.8,961.9 L447.2,957.5 L449.4,951.0 L451.6,945.1 L455.3,941.5 L458.2,940.7 L460.8,929.1 L465.2,921.8 L468.1,929.1 L471.1,942.2 L474.7,949.0 L477.6,939.3 L479.8,921.8 L482.0,902.8 L484.2,891.1 L486.4,883.8 L489.3,878.0 L492.2,872.1 L494.4,866.3 L496.6,854.6 L498.8,847.3 L501.4,845.0 L504.6,846.6 L507.6,850.2 L511.2,851.7 L514.9,854.6 L517.8,860.4 L520.0,869.2 L522.2,878.0 L525.1,889.6 L527.3,901.3 L530.2,905.7 L533.8,906.4 L536.8,905.0 L539.7,901.3 L542.6,898.4 L547.0,896.9 L550.6,891.1 L554.6,883.4 L558.1,880.7 L562.5,881.6 L566.9,878.1 L570.4,872.9 L573.0,862.3 L576.5,853.6 L580.0,851.0 L583.5,850.1 L586.2,841.3 L589.7,827.3 L593.2,813.3 L596.7,801.0 L600.2,800.5 L603.7,804.5 L607.2,815.0 L610.7,832.6 L614.2,839.6 L618.6,836.9 L622.1,846.6 L625.6,858.8 L629.1,872.9 L631.7,885.1 L635.2,888.6 L639.6,887.7 L643.1,893.9 L648.4,900.9 L652.7,906.1 L657.1,914.9" fill="none" stroke="#0404e0" stroke-width="3.2" stroke-linejoin="round" stroke-linecap="round"/>
<path d="M99.4,906.7 L101.6,909.6 L103.8,905.3 L106.0,908.2 L108.1,905.3 L111.1,903.8 L114.0,898.0 L116.2,895.0 L118.4,900.1 L121.3,908.2 L123.5,911.1 L126.4,918.4 L130.0,922.8 L133.0,921.3 L135.1,911.1 L136.6,898.0 L138.8,887.7 L141.0,890.7 L143.2,900.9 L145.4,903.8 L148.3,902.3 L150.5,900.1 L152.7,898.0 L154.9,899.4 L157.8,903.8 L160.0,903.1 L162.2,899.4 L165.8,895.8 L168.0,897.2 L170.9,899.4 L173.8,893.6 L176.0,883.4 L178.2,884.8 L179.7,892.1 L181.9,896.5 L184.0,900.9 L186.2,906.7 L188.4,916.9 L190.6,921.3 L192.8,915.5 L195.0,905.3 L196.0,903.8 L198.9,896.5 L201.8,898.7 L204.7,899.4 L206.9,898.7 L209.1,903.8 L212.0,909.6 L214.9,916.2 L217.8,919.9 L220.8,922.8 L223.0,919.9 L225.9,916.2 L228.1,925.7 L229.5,940.3 L231.0,962.2 L232.4,984.1 L233.6,989.5 L235.1,976.8 L236.8,959.3 L238.3,957.1 L239.7,962.2 L241.9,950.5 L243.4,933.0 L245.6,915.5 L247.8,902.3 L249.2,900.9 L251.4,903.8 L255.1,905.3 L259.5,906.7 L263.8,905.3 L268.2,908.2 L272.6,909.6 L275.5,901.6 L277.7,906.7 L279.9,911.8 L282.3,911.5 L286.0,911.5 L288.9,910.1 L291.1,905.7 L294.7,904.2 L297.6,899.9 L300.5,896.9 L303.5,896.2 L306.4,894.0 L309.3,898.4 L311.5,904.2 L314.4,907.2 L318.1,905.7 L321.7,902.8 L324.6,908.6 L328.3,911.5 L331.9,915.9 L334.9,913.0 L337.0,907.2 L340.0,902.8 L343.6,901.3 L346.5,902.8 L348.3,898.1 L350.3,896.1 L353.4,895.0 L355.9,892.0 L358.5,887.9 L361.1,882.8 L364.1,881.7 L367.7,885.8 L370.3,881.7 L374.3,880.7 L376.4,885.8 L379.6,893.0 L383.2,898.8 L386.2,907.6 L389.1,911.2 L391.3,913.4 L394.2,912.0 L397.8,907.6 L401.5,903.9 L405.1,906.1 L408.8,909.1 L411.0,914.9 L413.9,920.7 L416.8,922.2 L420.5,920.7 L424.9,923.6 L429.2,922.2 L432.2,919.3 L435.1,917.8 L438.0,922.2 L441.6,919.3 L444.6,913.4 L448.2,910.5 L451.9,906.1 L455.0,904.2 L457.9,903.5 L461.6,907.2 L464.5,913.0 L468.1,915.9 L471.1,920.3 L475.4,927.6 L478.4,917.4 L481.3,913.0 L484.9,910.1 L487.1,898.4 L490.0,889.6 L493.0,885.3 L496.6,880.1 L500.3,882.3 L503.9,879.4 L507.6,877.2 L511.2,878.7 L514.1,870.7 L517.0,864.8 L519.2,863.4 L521.4,873.6 L524.3,883.8 L526.5,895.5 L528.7,905.7 L530.9,907.2 L534.6,910.1 L537.5,914.5 L540.4,913.0 L542.6,904.2 L544.8,898.4 L547.6,892.1 L550.3,899.1 L553.8,895.6 L557.3,897.4 L560.8,902.6 L563.4,909.6 L566.9,912.3 L571.3,909.6 L574.8,907.9 L578.3,906.1 L581.8,909.6 L585.3,914.9 L588.8,923.7 L591.4,916.6 L594.1,900.9 L597.6,897.4 L601.1,892.1 L604.6,889.5 L609.0,890.4 L612.4,895.6 L616.0,893.9 L618.6,888.6 L622.1,878.1 L625.6,879.9 L629.1,883.4 L632.6,886.9 L636.1,893.9 L640.5,896.5 L644.9,899.1 L650.1,904.4 L653.6,909.6 L657.1,918.4" fill="none" stroke="#e6050a" stroke-width="3.2" stroke-linejoin="round" stroke-linecap="round"/>
<path d="M99.1,624.6 L99.1,1042.4 L659.5,1042.4" fill="none" stroke="#000" stroke-width="3"/>
<line x1="93.6" y1="1042.5" x2="99.1" y2="1042.5" stroke="#000" stroke-width="3" />
<line x1="93.6" y1="764.9" x2="99.1" y2="764.9" stroke="#000" stroke-width="3" />
<line x1="89.6" y1="903.7" x2="99.1" y2="903.7" stroke="#000" stroke-width="3" />
<line x1="89.6" y1="626.1" x2="99.1" y2="626.1" stroke="#000" stroke-width="3" />
<text x="85.6" y="908.9" font-family="Liberation Sans" font-size="20" font-weight="normal" text-anchor="end" >0</text>
<text x="84.2" y="631.2" font-family="Liberation Sans" font-size="20" font-weight="normal" text-anchor="end" >1</text>
<line x1="140.2" y1="1042.4" x2="140.2" y2="1051.9" stroke="#000" stroke-width="3" />
<text x="140.4" y="1071.1" font-family="Liberation Sans" font-size="20" font-weight="normal" text-anchor="middle" >500</text>
<line x1="243.9" y1="1042.4" x2="243.9" y2="1051.9" stroke="#000" stroke-width="3" />
<text x="244.1" y="1071.1" font-family="Liberation Sans" font-size="20" font-weight="normal" text-anchor="middle" >750</text>
<line x1="347.5" y1="1042.4" x2="347.5" y2="1051.9" stroke="#000" stroke-width="3" />
<text x="347.7" y="1071.1" font-family="Liberation Sans" font-size="20" font-weight="normal" text-anchor="middle" >1000</text>
<line x1="451.2" y1="1042.4" x2="451.2" y2="1051.9" stroke="#000" stroke-width="3" />
<text x="451.4" y="1071.1" font-family="Liberation Sans" font-size="20" font-weight="normal" text-anchor="middle" >1250</text>
<line x1="554.9" y1="1042.4" x2="554.9" y2="1051.9" stroke="#000" stroke-width="3" />
<text x="555.1" y="1071.1" font-family="Liberation Sans" font-size="20" font-weight="normal" text-anchor="middle" >1500</text>
<line x1="658.6" y1="1042.4" x2="658.6" y2="1051.9" stroke="#000" stroke-width="3" />
<text x="658.8" y="1071.1" font-family="Liberation Sans" font-size="20" font-weight="normal" text-anchor="middle" >1750</text>
<line x1="192.0" y1="1042.4" x2="192.0" y2="1047.9" stroke="#000" stroke-width="3" />
<line x1="295.7" y1="1042.4" x2="295.7" y2="1047.9" stroke="#000" stroke-width="3" />
<line x1="399.4" y1="1042.4" x2="399.4" y2="1047.9" stroke="#000" stroke-width="3" />
<line x1="503.1" y1="1042.4" x2="503.1" y2="1047.9" stroke="#000" stroke-width="3" />
<line x1="606.7" y1="1042.4" x2="606.7" y2="1047.9" stroke="#000" stroke-width="3" />
<rect x="325.65" y="502.95" width="4.05" height="2.8" fill="#fff"/>
<rect x="331.60" y="502.95" width="3.9" height="2.8" fill="#fff"/>
<rect x="326.40" y="1069.05" width="4.05" height="2.8" fill="#fff"/>
<rect x="332.35" y="1069.05" width="3.9" height="2.8" fill="#fff"/>
<rect x="429.20" y="502.95" width="4.05" height="2.8" fill="#fff"/>
<rect x="435.15" y="502.95" width="3.9" height="2.8" fill="#fff"/>
<rect x="430.08" y="1069.05" width="4.05" height="2.8" fill="#fff"/>
<rect x="436.03" y="1069.05" width="3.9" height="2.8" fill="#fff"/>
<rect x="532.75" y="502.95" width="4.05" height="2.8" fill="#fff"/>
<rect x="538.70" y="502.95" width="3.9" height="2.8" fill="#fff"/>
<rect x="533.75" y="1069.05" width="4.05" height="2.8" fill="#fff"/>
<rect x="539.70" y="1069.05" width="3.9" height="2.8" fill="#fff"/>
<rect x="636.30" y="502.95" width="4.05" height="2.8" fill="#fff"/>
<rect x="642.25" y="502.95" width="3.9" height="2.8" fill="#fff"/>
<rect x="637.43" y="1069.05" width="4.05" height="2.8" fill="#fff"/>
<rect x="643.38" y="1069.05" width="3.9" height="2.8" fill="#fff"/>
<rect x="74.98" y="307.55" width="4.05" height="2.8" fill="#fff"/>
<rect x="80.93" y="307.55" width="3.9" height="2.8" fill="#fff"/>
<rect x="73.98" y="629.15" width="4.05" height="2.8" fill="#fff"/>
<rect x="79.93" y="629.15" width="3.9" height="2.8" fill="#fff"/>
<path d="M31.3,5.0 L36.0,5.0 Q23.8,22.45 36.0,39.9 L31.3,39.9 Q17.9,22.45 31.3,5.0 Z" fill="#000"/>
<path d="M62.0,5.3 L66.9,5.3 Q79.1,22.45 66.9,39.6 L62.0,39.6 Q73.4,22.45 62.0,5.3 Z" fill="#000"/>
<g transform="translate(38.6,33.15) scale(0.9,1)"><text x="0" y="0" font-family="Liberation Sans" font-size="37.7" font-weight="bold">a</text></g>
<text x="95.0" y="39.9" font-family="Liberation Serif" font-size="30" font-weight="normal" text-anchor="start" textLength="262" lengthAdjust="spacing" >Mean SERS spectra</text>
<path d="M28.2,573.1 L32.8,573.1 Q20.4,589.85 32.8,606.6 L28.2,606.6 Q15.0,589.85 28.2,573.1 Z" fill="#000"/>
<path d="M62.1,573.1 L66.3,573.1 Q79.3,589.85 66.3,606.6 L62.1,606.6 Q73.9,589.85 62.1,573.1 Z" fill="#000"/>
<g transform="translate(34.4,600.5) scale(1.01,1)"><text x="0" y="0" font-family="Liberation Sans" font-size="40.6" font-weight="bold">b</text></g>
<text x="95.0" y="609.4" font-family="Liberation Serif" font-size="30" font-weight="normal" text-anchor="start" textLength="244" lengthAdjust="spacing" >Difference spectra</text>
<text x="265.8" y="541" font-family="Liberation Serif" font-size="25" font-weight="bold" textLength="177.4" lengthAdjust="spacingAndGlyphs">Raman shift (cm</text>
<text x="445.0" y="527.3" font-family="Liberation Serif" font-size="16.5" font-weight="bold" textLength="14" lengthAdjust="spacing">-1</text>
<text x="462.3" y="541" font-family="Liberation Serif" font-size="25" font-weight="bold">)</text>
<text x="267.6" y="1108.6" font-family="Liberation Serif" font-size="25" font-weight="bold" textLength="177.4" lengthAdjust="spacingAndGlyphs">Raman shift (cm</text>
<text x="446.8" y="1094.8999999999999" font-family="Liberation Serif" font-size="16.5" font-weight="bold" textLength="14" lengthAdjust="spacing">-1</text>
<text x="464.1" y="1108.6" font-family="Liberation Serif" font-size="25" font-weight="bold">)</text>
<text transform="translate(24.4,287.15) rotate(-90)" x="0" y="0" font-family="Liberation Serif" font-size="25" font-weight="bold" text-anchor="middle" textLength="175" lengthAdjust="spacingAndGlyphs">Raman intensity</text>
<text transform="translate(56.0,283.1) rotate(-90)" x="0" y="0" font-family="Liberation Serif" font-size="25" font-weight="bold" text-anchor="middle" textLength="311.4" lengthAdjust="spacingAndGlyphs">(% of to total signals)(×1E-3)</text>
<text transform="translate(25.1,852.9) rotate(-90)" x="0" y="0" font-family="Liberation Serif" font-size="25" font-weight="bold" text-anchor="middle" textLength="175" lengthAdjust="spacingAndGlyphs">Raman intensity</text>
<text transform="translate(56.7,849.5) rotate(-90)" x="0" y="0" font-family="Liberation Serif" font-size="25" font-weight="bold" text-anchor="middle" textLength="312.4" lengthAdjust="spacingAndGlyphs">(% of to total signals)(×1E-3)</text>
<line x1="423.5" y1="41.1" x2="468.5" y2="41.1" stroke="#14e614" stroke-width="2.8" stroke-linecap="round"/>
<text x="475.3" y="47.4" font-family="Liberation Serif" font-size="22" font-weight="normal" text-anchor="start" textLength="143.1" lengthAdjust="spacing" >T1 stage cancer</text>
<line x1="423.5" y1="70.1" x2="468.5" y2="70.1" stroke="#0000c8" stroke-width="2.8" stroke-linecap="round"/>
<text x="475.3" y="76.4" font-family="Liberation Serif" font-size="22" font-weight="normal" text-anchor="start" textLength="178.4" lengthAdjust="spacing" >T2-T4 stage cancer</text>
<line x1="423.5" y1="98.9" x2="468.5" y2="98.9" stroke="#dc000a" stroke-width="2.8" stroke-linecap="round"/>
<text x="475.3" y="105.2" font-family="Liberation Serif" font-size="22" font-weight="normal" text-anchor="start" textLength="69.5" lengthAdjust="spacing" >Normal</text>
<line x1="258.5" y1="654.6" x2="303.5" y2="654.6" stroke="#14e614" stroke-width="2.8" stroke-linecap="round"/>
<text x="309.6" y="660.9" font-family="Liberation Serif" font-size="22" font-weight="normal" text-anchor="start" textLength="232.4" lengthAdjust="spacing" >T1 stage cancer - normal</text>
<line x1="258.5" y1="683.5" x2="303.5" y2="683.5" stroke="#0000c8" stroke-width="2.8" stroke-linecap="round"/>
<text x="309.6" y="689.8" font-family="Liberation Serif" font-size="22" font-weight="normal" text-anchor="start" textLength="265.4" lengthAdjust="spacing" >T2-T4 stage cancer - normal</text>
<line x1="258.5" y1="712.3" x2="303.5" y2="712.3" stroke="#dc000a" stroke-width="2.8" stroke-linecap="round"/>
<text x="309.6" y="718.6" font-family="Liberation Serif" font-size="22" font-weight="normal" text-anchor="start" textLength="346.7" lengthAdjust="spacing" >T2-T4 stage cancer - T1 stage cancer</text></svg>
</body></html>
